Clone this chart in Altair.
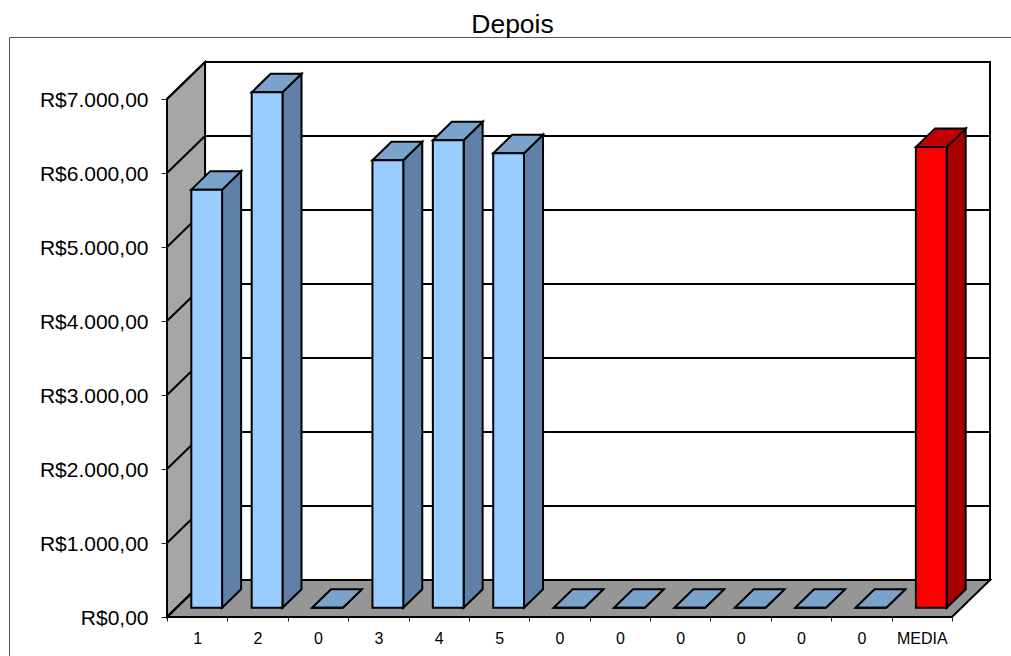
import altair as alt
import pandas as pd

# Monthly amounts shown as 3D columns, the last one being their average
categories = ["1", "2", "0", "3", "4", "5", "0", "0", "0", "0", "0", "0", "MEDIA"]
values = [5650, 6966, 0, 6047, 6318, 6142, 0, 0, 0, 0, 0, 0, 6225]
value_ticks = [0, 1000, 2000, 3000, 4000, 5000, 6000, 7000]

# Oblique projection: going through the full chart depth moves a point
# right by DX category units and up by DY currency units.
DX = 0.63
DY = 500
BAR_W = 0.51
N = len(categories)
TOP = max(value_ticks)

x_scale = alt.Scale(domain=[0, N + DX], nice=False, zero=False)
y_scale = alt.Scale(domain=[0, TOP + DY], nice=False, zero=False)

label_array = "[" + ",".join(f"'{c}'" for c in categories) + "]"
x_axis = alt.Axis(
    title=None,
    values=[k / 2 for k in range(2 * N + 1)],
    domain=False,
    grid=False,
    tickColor="#222222",
    tickSize=4,
    tickOpacity={"condition": {"test": "datum.value % 1 === 0", "value": 1}, "value": 0},
    labelExpr=f"datum.value % 1 === 0 ? '' : {label_array}[floor(datum.value)]",
    labelFont="Liberation Sans",
    labelFontSize=16,
    labelColor="#000000",
    labelPadding=9,
    labelOverlap=False,
    labelFlush=False,
    labelAngle=0,
)
y_axis = alt.Axis(
    title=None,
    values=value_ticks,
    domain=False,
    grid=False,
    tickColor="#222222",
    tickSize=6,
    labelExpr="'R$' + replace(format(datum.value, ','), ',', '.') + ',00'",
    labelFont="Liberation Sans",
    labelFontSize=21,
    labelColor="#000000",
    labelPadding=13,
    labelOffset=1,
    labelOverlap=False,
)


def X(field):
    return alt.X(f"{field}:Q", scale=x_scale, axis=x_axis)


def Y(field):
    return alt.Y(f"{field}:Q", scale=y_scale, axis=y_axis, stack=None)


STROKE = dict(stroke="#000000", strokeWidth=2, strokeJoin="miter")

# Chart box: side wall, floor and back wall
side_wall = pd.DataFrame({"x": [0, DX], "low": [0, DY], "high": [TOP, TOP + DY]})
floor = pd.DataFrame({"depth": [0, DY], "left": [0, DX], "right": [N, N + DX]})
back_wall = pd.DataFrame({"x": [DX], "x2": [N + DX], "y": [DY], "y2": [TOP + DY]})

wall_layer = alt.Chart(side_wall).mark_area(fill="#A6A6A6", orient="vertical", **STROKE).encode(
    x=X("x"), y=Y("low"), y2="high:Q"
)
floor_layer = alt.Chart(floor).mark_area(fill="#969696", orient="horizontal", **STROKE).encode(
    y=Y("depth"), x=X("left"), x2="right:Q"
)
back_layer = alt.Chart(back_wall).mark_rect(fill="#FFFFFF", **STROKE).encode(
    x=X("x"), x2="x2:Q", y=Y("y"), y2="y2:Q"
)

# Gridlines run along the back wall and fold forward over the side wall
grid_h = pd.DataFrame({"x": [DX] * len(value_ticks), "x2": [N + DX] * len(value_ticks),
                       "y": [v + DY for v in value_ticks]})
grid_h_layer = alt.Chart(grid_h).mark_rule(color="#000000", strokeWidth=2).encode(
    x=X("x"), x2="x2:Q", y=Y("y")
)
grid_d = pd.DataFrame(
    [{"tick": v, "x": 0, "y": v} for v in value_ticks]
    + [{"tick": v, "x": DX, "y": v + DY} for v in value_ticks]
)
grid_d_layer = alt.Chart(grid_d).mark_line(color="#000000", strokeWidth=2).encode(
    x=X("x"), y=Y("y"), detail="tick:N", order="x:Q"
)

# Column faces, computed from the values through the same projection
fronts, sides, tops = [], [], []
for i, v in enumerate(values):
    tone = "avg" if categories[i] == "MEDIA" else "reg"
    x0 = i + 0.5 + DX / 4 - BAR_W / 2
    x1 = x0 + BAR_W
    base = DY / 4
    fronts.append({"tone": tone, "x0": x0, "x1": x1, "y0": base, "y1": base + v})
    sides += [
        {"bar": i, "tone": tone, "x": x1, "low": base, "high": base + v},
        {"bar": i, "tone": tone, "x": x1 + DX / 2, "low": base + DY / 2, "high": base + DY / 2 + v},
    ]
    tops += [
        {"bar": i, "tone": tone, "y": base + v, "left": x0, "right": x1},
        {"bar": i, "tone": tone, "y": base + v + DY / 2, "left": x0 + DX / 2, "right": x1 + DX / 2},
    ]


def tone_color(colors):
    return alt.Color("tone:N", scale=alt.Scale(domain=["reg", "avg"], range=colors), legend=None)


side_layer = alt.Chart(pd.DataFrame(sides)).mark_area(orient="vertical", **STROKE).encode(
    x=X("x"), y=Y("low"), y2="high:Q", detail="bar:N",
    color=tone_color(["#6080A8", "#A60000"]),
)
top_layer = alt.Chart(pd.DataFrame(tops)).mark_area(orient="horizontal", **STROKE).encode(
    y=Y("y"), x=X("left"), x2="right:Q", detail="bar:N",
    color=tone_color(["#7AA3CC", "#BF0000"]),
)
front_layer = alt.Chart(pd.DataFrame(fronts)).mark_rect(**STROKE).encode(
    x=X("x0"), x2="x1:Q", y=Y("y0"), y2="y1:Q",
    color=tone_color(["#99CCFF", "#FF0000"]),
)

# Thin frame around the whole chart, running off the right and bottom edges
frame_top = alt.Chart(pd.DataFrame({"a": [0]})).mark_rule(color="#555555", strokeWidth=1).encode(
    x=alt.value(-157.5), x2=alt.value(844), y=alt.value(-24.5)
)
frame_left = alt.Chart(pd.DataFrame({"a": [0]})).mark_rule(color="#555555", strokeWidth=1).encode(
    x=alt.value(-157.5), y=alt.value(-24.5), y2=alt.value(594)
)

chart = alt.layer(
    frame_top, frame_left,
    back_layer, wall_layer, floor_layer, grid_h_layer, grid_d_layer,
    side_layer, top_layer, front_layer,
).resolve_scale(
    color="independent"
).properties(
    width=823,
    height=555,
    padding={"left": 167, "top": 62, "right": 21, "bottom": 39},
    autosize=alt.AutoSizeParams(type="none"),
    title=alt.TitleParams(
        "Depois", font="Liberation Sans", fontSize=26.5, fontWeight="normal",
        color="#000000", anchor="middle", dx=-66, offset=-1,
    ),
).configure_view(stroke=None)

chart.save("out.html", embed_options={"renderer": "svg", "actions": False})
